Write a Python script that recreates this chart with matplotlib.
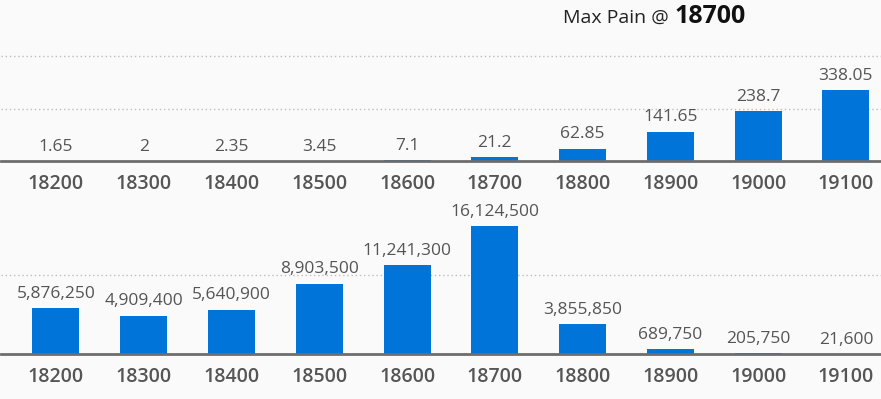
import numpy as np
from matplotlib import pyplot as plt

strikes = [18200, 18300, 18400, 18500, 18600, 18700, 18800, 18900, 19000, 19100]
premium = [1.65, 2, 2.35, 3.45, 7.1, 21.2, 62.85, 141.65, 238.7, 338.05]
pain = [5876250, 4909400, 5640900, 8903500, 11241300, 16124500,
        3855850, 689750, 205750, 21600]
max_pain = strikes[int(np.argmax(pain))]

BAR = '#0074d9'
TXT = '#555555'
BG = '#fafafa'

plt.rcParams['font.family'] = ['Open Sans', 'DejaVu Sans']

fig = plt.figure(figsize=(8.81, 3.99), dpi=100)
fig.patch.set_facecolor(BG)

W, H = 881, 399


def px_axes(left, top, right, bottom):
    return fig.add_axes([left / W, 1 - bottom / H, (right - left) / W, (bottom - top) / H])


def style(ax, values, fmt, ylim, grid):
    # baseline sits a touch above zero so the tiniest bars are hidden
    # (set_position resets the ticks, so it goes first)
    ax.spines['bottom'].set_position(('outward', -0.6))
    ax.spines['bottom'].set_color('#6d6d6d')
    ax.spines['bottom'].set_linewidth(2.0)
    ax.spines['bottom'].set_zorder(3)
    for s in ['top', 'left', 'right']:
        ax.spines[s].set_visible(False)

    x = np.arange(len(values))
    ax.set_facecolor(BG)
    ax.bar(x, values, width=0.535, color=BAR, zorder=2)
    for xi, v in zip(x, values):
        ax.annotate(fmt(v), (xi, v), xytext=(0, 7.5), textcoords='offset points',
                    ha='center', va='baseline', fontsize=12.5, color=TXT)
    ax.set_xlim(-0.626, 9.40)
    ax.set_ylim(0, ylim)
    ax.set_yticks(grid)
    ax.yaxis.grid(True, linestyle=(0, (1, 2)), color='#bdbdbd', linewidth=1.0)
    ax.set_axisbelow(True)
    ax.tick_params(axis='y', length=0, labelleft=False)
    ax.set_xticks(x)
    ax.set_xticklabels([str(s) for s in strikes], fontsize=14, fontweight='semibold', color=TXT)
    ax.tick_params(axis='x', length=0, pad=9)


ax1 = px_axes(1, 40, 881, 162)
style(ax1, premium, lambda v: f'{v:g}', 122 / 0.213, [250, 500])

ax2 = px_axes(1, 200, 881, 355)
style(ax2, pain, lambda v: f'{v:,}', 155 / 8.0 * 1e6, [10e6])

fig.text(563 / W, 1 - 23 / H, 'Max Pain @', fontsize=14, color='#222222', va='baseline')
fig.text(674 / W, 1 - 23 / H, str(max_pain), fontsize=18, fontweight='bold',
         color='#111111', va='baseline')

fig.savefig('out.png', dpi=100, facecolor=BG)
